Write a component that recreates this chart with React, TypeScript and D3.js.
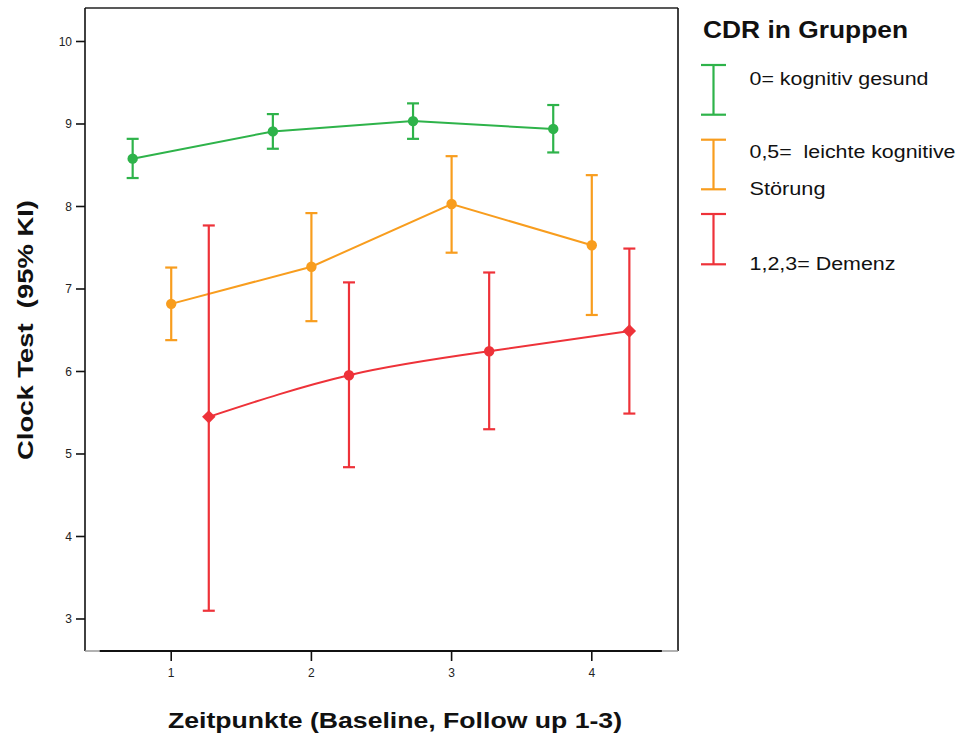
import React from "react";
import * as d3 from "d3";

const timepoints = [1, 2, 3, 4];
const groupNames = ["0= kognitiv gesund", "0,5=  leichte kognitive Störung", "1,2,3= Demenz"];
const greenMean = [8.58, 8.91, 9.035, 8.94];
const greenLow = [8.345, 8.70, 8.82, 8.655];
const greenHigh = [8.82, 9.12, 9.25, 9.23];
const orangeMean = [6.82, 7.27, 8.03, 7.53];
const orangeLow = [6.38, 6.61, 7.44, 6.685];
const orangeHigh = [7.26, 7.92, 8.61, 8.38];
const redMean = [5.45, 5.955, 6.245, 6.49];
const redLow = [3.10, 4.84, 5.30, 5.49];
const redHigh = [7.77, 7.08, 7.20, 7.49];
const yTicks = [3, 4, 5, 6, 7, 8, 9, 10];

const W = 957;
const H = 735;
const left = 85;
const right = 678;
const top = 8;
const bottom = 651;

const x = d3.scaleLinear().domain([0.385, 4.615]).range([left, right]);
const y = d3.scaleLinear().domain([2.612, 10.406]).range([bottom, top]);

const series = [
  { color: "#2eb34a", mean: greenMean, low: greenLow, high: greenHigh, offset: -0.275, curve: d3.curveLinear, markers: ["c", "c", "c", "c"] },
  { color: "#f89d1e", mean: orangeMean, low: orangeLow, high: orangeHigh, offset: 0, curve: d3.curveLinear, markers: ["c", "c", "c", "c"] },
  { color: "#ee3239", mean: redMean, low: redLow, high: redHigh, offset: 0.268, curve: d3.curveNatural, markers: ["d", "c", "c", "d"] },
];

export default function App() {
  const font = "Arial, 'Liberation Sans', Helvetica, sans-serif";
  return (
    <svg width={W} height={H} style={{ position: "absolute", left: 0, top: 0 }} fontFamily={font}>
      <rect x={0} y={0} width={W} height={H} fill="#fff" />
      {/* frame */}
      <line x1={left} y1={top} x2={right} y2={top} stroke="#222" strokeWidth={1.6} />
      <line x1={left} y1={top} x2={left} y2={bottom} stroke="#111" strokeWidth={1.6} />
      <line x1={right} y1={top} x2={right} y2={bottom} stroke="#111" strokeWidth={1.6} />
      <line x1={left} y1={bottom} x2={right} y2={bottom} stroke="#999" strokeWidth={1.6} />
      <line x1={x(0.49)} y1={bottom} x2={x(4.5)} y2={bottom} stroke="#111" strokeWidth={1.8} />
      {/* y ticks */}
      {yTicks.map((t) => (
        <g key={"y" + t}>
          <line x1={left - 9} x2={left} y1={y(t)} y2={y(t)} stroke="#111" strokeWidth={1.6} />
          <text x={left - 13} y={y(t)} dy="0.35em" textAnchor="end" fontSize={12} fill="#222">{t}</text>
        </g>
      ))}
      {/* x ticks */}
      {timepoints.map((t) => (
        <g key={"x" + t}>
          <line x1={x(t)} x2={x(t)} y1={bottom} y2={bottom + 10} stroke="#111" strokeWidth={1.6} />
          <text x={x(t)} y={673} dy="0.35em" textAnchor="middle" fontSize={12} fill="#222">{t}</text>
        </g>
      ))}
      {/* series */}
      {series.map((s, si) => {
        const pts: [number, number][] = timepoints.map((t, i) => [x(t + s.offset), y(s.mean[i])]);
        const line = d3.line().curve(s.curve)(pts) || "";
        return (
          <g key={"s" + si}>
            <path d={line} fill="none" stroke={s.color} strokeWidth={2} />
            {timepoints.map((t, i) => {
              const cx = x(t + s.offset);
              return (
                <g key={i}>
                  <line x1={cx} x2={cx} y1={y(s.low[i])} y2={y(s.high[i])} stroke={s.color} strokeWidth={2.2} />
                  <line x1={cx - 6} x2={cx + 6} y1={y(s.low[i])} y2={y(s.low[i])} stroke={s.color} strokeWidth={2.2} />
                  <line x1={cx - 6} x2={cx + 6} y1={y(s.high[i])} y2={y(s.high[i])} stroke={s.color} strokeWidth={2.2} />
                  {s.markers[i] === "c" ? (
                    <circle cx={cx} cy={y(s.mean[i])} r={5.2} fill={s.color} />
                  ) : (
                    <path d={d3.symbol(d3.symbolSquare, 90)() || ""} transform={`translate(${cx},${y(s.mean[i])}) rotate(45)`} fill={s.color} />
                  )}
                </g>
              );
            })}
          </g>
        );
      })}
      {/* axis titles */}
      <text transform={`translate(33,330) rotate(-90)`} textAnchor="middle" fontSize={22} fontWeight="bold" fill="#111" textLength={260} lengthAdjust="spacingAndGlyphs" style={{ whiteSpace: "pre" }}>{"Clock Test  (95% KI)"}</text>
      <text x={395} y={720} dy="0.35em" textAnchor="middle" fontSize={22} fontWeight="bold" fill="#111" textLength={454} lengthAdjust="spacingAndGlyphs">Zeitpunkte (Baseline, Follow up 1-3)</text>
      {/* legend */}
      <text x={703} y={30} dy="0.35em" fontSize={23} fontWeight="bold" fill="#111" textLength={205} lengthAdjust="spacingAndGlyphs">CDR in Gruppen</text>
      {[
        { c: series[0].color, y1: 65, y2: 114.7, lines: [groupNames[0]], ty: [79], tl: [179] },
        { c: series[1].color, y1: 139.7, y2: 189.3, lines: ["0,5=  leichte kognitive", "Störung"], ty: [152, 189], tl: [206, 76] },
        { c: series[2].color, y1: 214, y2: 264.3, lines: [groupNames[2]], ty: [264], tl: [146] },
      ].map((l, i) => (
        <g key={"l" + i}>
          <line x1={713.5} x2={713.5} y1={l.y1} y2={l.y2} stroke={l.c} strokeWidth={2.2} />
          <line x1={701} x2={726} y1={l.y1} y2={l.y1} stroke={l.c} strokeWidth={2.2} />
          <line x1={701} x2={726} y1={l.y2} y2={l.y2} stroke={l.c} strokeWidth={2.2} />
          {l.lines.map((t, j) => (
            <text key={j} x={749.5} y={l.ty[j]} dy="0.35em" fontSize={18} fill="#111" textLength={l.tl[j]} lengthAdjust="spacingAndGlyphs" style={{ whiteSpace: "pre" }}>{t}</text>
          ))}
        </g>
      ))}
    </svg>
  );
}
